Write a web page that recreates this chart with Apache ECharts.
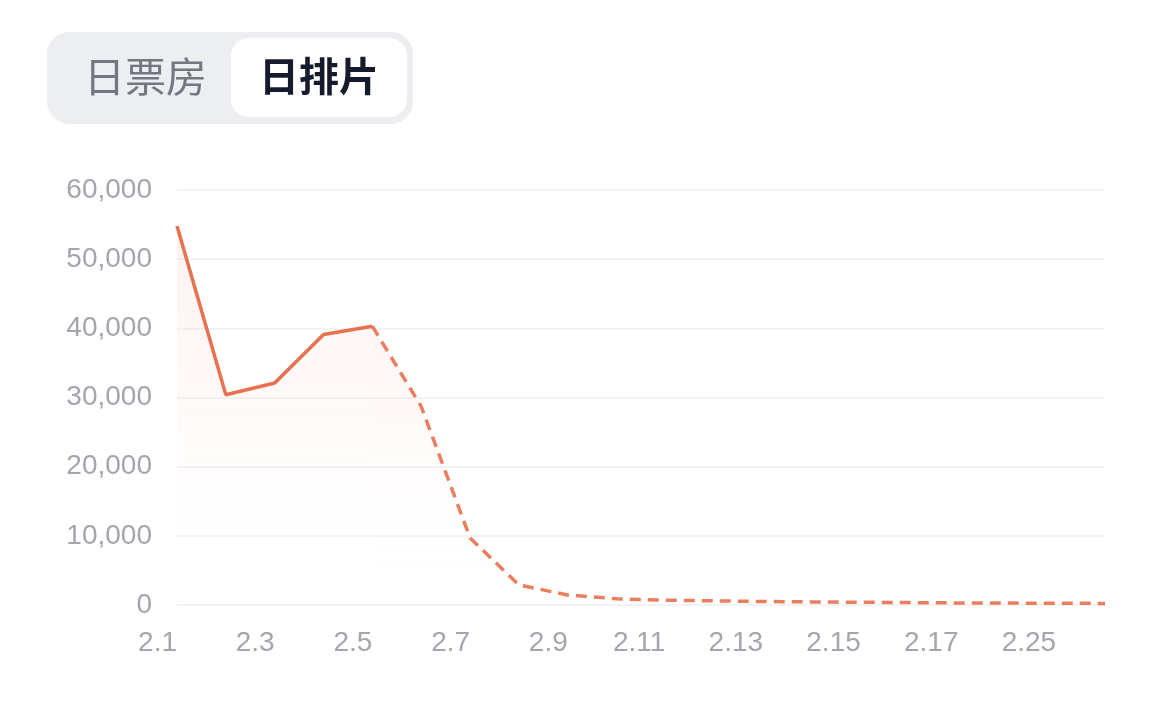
<!DOCTYPE html>
<html><head><meta charset="utf-8">
<script src="https://cdn.jsdelivr.net/npm/echarts@6/dist/echarts.min.js"></script>
<style>html,body{margin:0;padding:0;background:#fff;}#c{width:1170px;height:728px;}</style>
</head><body><div id="c"></div>
<script>
const categories = ['2.1','2.2','2.3','2.4','2.5','2.6','2.7','2.8','2.9','2.10','2.11','2.12','2.13','2.14','2.15','2.16','2.17','2.21','2.25','2.28'];
const actualValues = [54800, 30400, 32100, 39100, 40300];
const forecastValues = [null, null, null, null, 40300, 28700, 9700, 2900, 1450, 900, 700, 600, 500, 450, 400, 350, 300, 280, 250, 230];
const yTicks = { min: 0, max: 60000, interval: 10000 };
const tabs = ['日票房', '日排片'];

const lineColor = '#E8714F';
const chart = echarts.init(document.getElementById('c'), null, {renderer: 'canvas'});
const font = '"Liberation Sans", Arial, "Noto Sans CJK SC", sans-serif';
function areaGrad(){
  const g = new echarts.graphic.LinearGradient(0, 190, 0, 605, [
    {offset: 0, color: 'rgba(245,120,100,0.15)'},
    {offset: 0.5, color: 'rgba(248,140,110,0.07)'},
    {offset: 1, color: 'rgba(255,255,255,0)'}], true);
  return g;
}
chart.setOption({
  animation: false,
  grid: {left: 177, right: 65, top: 190, bottom: 123},
  xAxis: {
    type: 'category', data: categories, boundaryGap: false,
    axisLine: {show: false}, axisTick: {show: false},
    axisLabel: {interval: 1, align: 'right', color: '#A3A6AE', fontSize: 28, fontFamily: font, margin: 24}
  },
  yAxis: {
    type: 'value', min: yTicks.min, max: yTicks.max, interval: yTicks.interval,
    axisLine: {show: false}, axisTick: {show: false},
    axisLabel: {color: '#A3A6AE', fontSize: 28, fontFamily: font, margin: 25,
      formatter: v => v.toLocaleString('en-US')},
    splitLine: {lineStyle: {color: '#F3F3F5', width: 2}}
  },
  series: [
    {
      type: 'line', data: actualValues, symbol: 'none', z: 3,
      lineStyle: {color: lineColor, width: 3.5},
      areaStyle: {color: areaGrad()}
    },
    {
      type: 'line', data: forecastValues, symbol: 'none', z: 2,
      lineStyle: {color: lineColor, width: 3.5, type: [11, 7], opacity: 0.9},
      areaStyle: {color: areaGrad(), opacity: 0.8}
    }
  ],
  graphic: [
    {type: 'rect', left: 47, top: 32, shape: {width: 366, height: 92, r: 22}, style: {fill: '#EDEEF1'}},
    {type: 'rect', left: 231, top: 38, shape: {width: 176, height: 79, r: 18}, style: {fill: '#FFFFFF'}},
    {type: 'text', left: 84, top: 56, style: {text: tabs[0], fontSize: 41, fill: '#74777F', fontFamily: '"Noto Sans CJK SC", sans-serif'}},
    {type: 'text', left: 259, top: 56, style: {text: tabs[1], fontSize: 40, fontWeight: 'bold', fill: '#151A2D', fontFamily: '"Noto Sans CJK SC", sans-serif'}}
  ]
});
</script></body></html>
